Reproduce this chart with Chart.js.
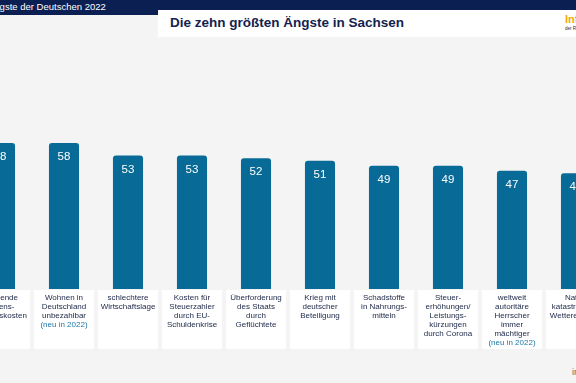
<!DOCTYPE html>
<html>
<head>
<meta charset="utf-8">
<script src="https://cdn.jsdelivr.net/npm/chart.js@4"></script>
<style>
  html, body { margin: 0; padding: 0; }
  body {
    width: 576px; height: 383px; overflow: hidden; position: relative;
    background: #f4f4f4; font-family: "Liberation Sans", Arial, sans-serif;
  }
  #band { position: absolute; left: 0; top: 0; width: 576px; height: 10px; background: #0b1f52; }
  #bandLeft { position: absolute; left: 0; top: 0; width: 158px; height: 15px; background: #0b1f52; }
  #bandText { position: absolute; left: -12px; top: 1px; color: #fff; font-size: 9.5px; white-space: nowrap; }
  #titleBox { position: absolute; left: 158px; top: 10px; width: 418px; height: 27px; background: #fff; }
  #title { position: absolute; left: 12px; top: 5px; color: #14224d; font-weight: bold; font-size: 13.5px; white-space: nowrap; }
  #logo { position: absolute; left: 407px; top: 3px; color: #f5a800; font-weight: bold; font-size: 11px; }
  #logoSub { position: absolute; left: 407px; top: 16px; color: #14224d; font-size: 4.5px; white-space: nowrap; }
  #foot { position: absolute; left: 572px; top: 367px; color: #666; font-size: 9px; }
  #wrap { position: absolute; left: -32px; top: 0; width: 640px; height: 383px; }
</style>
</head>
<body>
<div id="band"></div>
<div id="bandLeft"></div>
<div id="bandText">Ängste der Deutschen 2022</div>
<div id="titleBox">
  <div id="title">Die zehn größten Ängste in Sachsen</div>
  <div id="logo">Info</div>
  <div id="logoSub">der R+V</div>
</div>
<div id="foot">infocenter</div>
<div id="wrap"><canvas id="graf" width="640" height="383"></canvas></div>
<script>
const kategorie = [
  ['Steigende', 'Lebens-', 'haltungskosten'],
  ['Wohnen in', 'Deutschland', 'unbezahlbar'],
  ['schlechtere', 'Wirtschaftslage'],
  ['Kosten für', 'Steuerzahler', 'durch EU-', 'Schuldenkrise'],
  ['Überforderung', 'des Staats', 'durch', 'Geflüchtete'],
  ['Krieg mit', 'deutscher', 'Beteiligung'],
  ['Schadstoffe', 'in Nahrungs-', 'mitteln'],
  ['Steuer-', 'erhöhungen/', 'Leistungs-', 'kürzungen', 'durch Corona'],
  ['weltweit', 'autoritäre', 'Herrscher', 'immer', 'mächtiger'],
  ['Natur-', 'katastrophen/', 'Wetterextreme']
];
const noveVPoradi = [false, true, false, false, false, false, false, false, true, false];
const hodnoty = [58, 58, 53, 53, 52, 51, 49, 49, 47, 46];

// boxy s popisky + hodnoty v sloupcich
const popiskyPlugin = {
  id: 'popisky',
  afterDraw(chart) {
    const ctx = chart.ctx;
    const x = chart.scales.x;
    const bottom = chart.chartArea.bottom;
    ctx.save();
    kategorie.forEach((radky, i) => {
      const cx = x.getPixelForValue(i);
      ctx.fillStyle = '#ffffff';
      ctx.fillRect(cx - 30, bottom + 1, 60, 59);
      ctx.font = '8px "Liberation Sans", Arial, sans-serif';
      ctx.textAlign = 'center';
      ctx.textBaseline = 'middle';
      ctx.fillStyle = '#1c2747';
      radky.forEach((r, j) => ctx.fillText(r, cx, bottom + 9 + j * 9));
      if (noveVPoradi[i]) {
        ctx.fillStyle = '#1d78a6';
        ctx.fillText('(neu in 2022)', cx, bottom + 9 + radky.length * 9);
      }
    });
    const meta = chart.getDatasetMeta(0);
    ctx.font = '11.5px "Liberation Sans", Arial, sans-serif';
    ctx.fillStyle = '#ffffff';
    meta.data.forEach((bar, i) => {
      ctx.fillText(String(hodnoty[i]), bar.x, bar.y + 14);
    });
    ctx.restore();
  }
};

new Chart(document.getElementById('graf').getContext('2d'), {
  type: 'bar',
  data: {
    labels: kategorie.map(k => k.join(' ')),
    datasets: [{
      data: hodnoty,
      backgroundColor: '#086a96',
      borderRadius: { topLeft: 3, topRight: 3 },
      borderSkipped: 'bottom',
      barPercentage: 0.47,
      categoryPercentage: 1
    }]
  },
  options: {
    responsive: false,
    animation: false,
    layout: { padding: { top: 138, bottom: 94, left: 0, right: 0 } },
    plugins: { legend: { display: false }, tooltip: { enabled: false } },
    scales: {
      x: { display: false },
      y: { display: false, min: 0, max: 60 }
    }
  },
  plugins: [popiskyPlugin]
});
</script>
</body>
</html>
